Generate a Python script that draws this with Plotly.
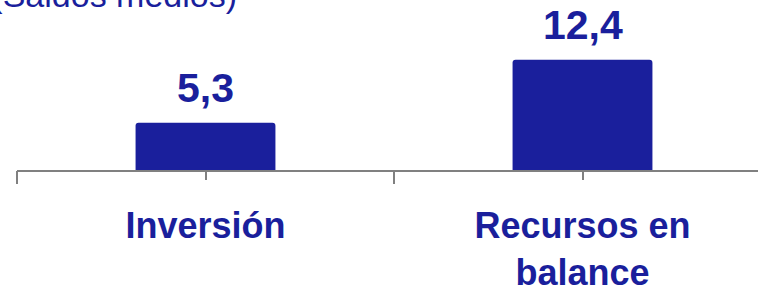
import plotly.graph_objects as go

categories = ["Inversión", "Recursos en<br>balance"]
values = [5.3, 12.4]
value_labels = ["5,3", "12,4"]
title_text = "(Saldos medios)"

BLUE = "#1A1F9C"
FONT = "Liberation Sans, Arial, sans-serif"

fig = go.Figure()
fig.add_trace(go.Bar(
    x=categories, y=values, marker=dict(color=BLUE, line=dict(width=0)),
    hoverinfo="skip", showlegend=False,
))
# invisible helper trace so the boundary-tick axis knows the categories
fig.add_trace(go.Scatter(
    x=categories, y=values, xaxis="x2", mode="markers",
    marker=dict(opacity=0), hoverinfo="skip", showlegend=False,
))

for c, v, t in zip(categories, values, value_labels):
    fig.add_annotation(
        x=c, y=v, text=t, showarrow=False, yanchor="bottom", yshift=10,
        font=dict(family=FONT, size=41, color=BLUE, weight="bold"),
    )

xr = [-0.5, -0.5 + 741 / 377]
fig.update_layout(
    width=758, height=285,
    margin=dict(l=17, r=0, t=0, b=115, autoexpand=False),
    paper_bgcolor="white", plot_bgcolor="white",
    bargap=0.629, barcornerradius=3,
    title=dict(
        text=title_text, x=237 / 758, xanchor="right", xref="container",
        y=1 - 7 / 285, yanchor="bottom", yref="container",
        font=dict(family=FONT, size=34, color=BLUE),
    ),
    xaxis=dict(
        type="category", range=xr, showline=True, linecolor="#808080", linewidth=2,
        ticks="outside", ticklen=8, tickwidth=1.5, tickcolor="#808080",
        tickfont=dict(family=FONT, size=36, color=BLUE, weight="bold"),
        ticklabelstandoff=15, automargin=False,
        showgrid=False, zeroline=False,
    ),
    xaxis2=dict(
        type="category", range=xr, overlaying="x", side="bottom",
        tickson="boundaries", ticks="outside", ticklen=13, tickwidth=1.5,
        tickcolor="#808080", showticklabels=False, showline=False,
        showgrid=False, zeroline=False, automargin=False,
    ),
    yaxis=dict(range=[0, 170 / 8.9], visible=False, showgrid=False,
               zeroline=False, automargin=False),
)

fig.write_html(
    "out.html",
    config={"displayModeBar": False},
    post_script="document.body.style.margin='0px';",
)
